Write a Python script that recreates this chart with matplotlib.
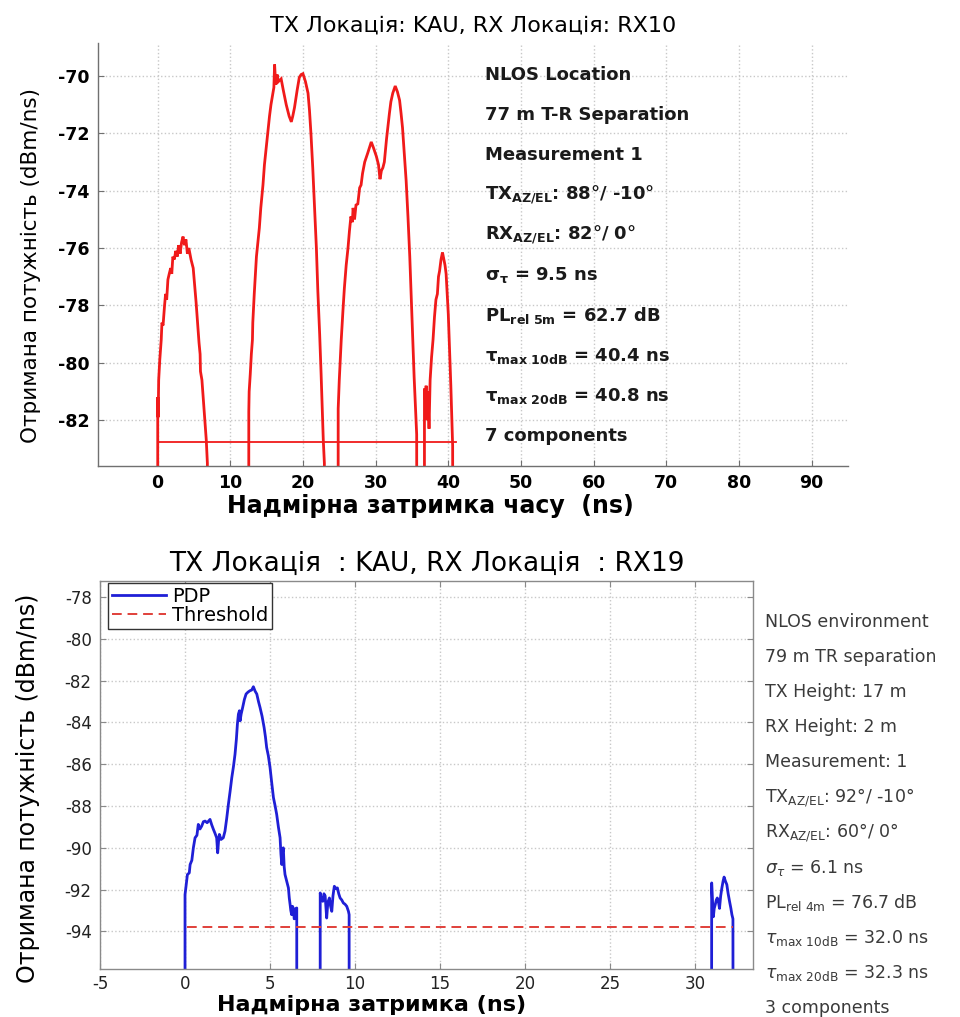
import matplotlib
matplotlib.use("Agg")
import matplotlib.pyplot as plt
import numpy as np

plt.rcParams['font.family'] = ['DejaVu Sans']
plt.rcParams['mathtext.fontset'] = 'dejavusans'
plt.rcParams['axes.unicode_minus'] = False

# ---------------- data: top chart (RX10) ----------------
top_title = "TX Локація: KAU, RX Локація: RX10"
top_xlabel = "Надмірна затримка часу  (ns)"
ylabel_text = "Отримана потужність (dBm/ns)"
top_xticks = [0, 10, 20, 30, 40, 50, 60, 70, 80, 90]
top_yticks = [-82, -80, -78, -76, -74, -72, -70]
FLOOR = -120.0

top_delay = [0.0, 0.02, 0.08, 0.15, 0.3, 0.5, 0.6, 0.75, 0.96, 1.1, 1.25, 1.42, 1.6, 1.8, 1.95, 2.1,
             2.3, 2.5, 2.7, 2.9, 3.1, 3.3, 3.5, 3.7, 3.9, 4.1, 4.3, 4.6, 4.9, 5.1, 5.3, 5.5, 5.7,
             5.85, 5.9, 6.1, 6.3, 6.5, 6.7, 6.85, 6.9,
             12.5, 12.55, 12.6, 12.75, 12.9, 13.05, 13.1, 13.3, 13.6, 14.0, 14.2, 14.5, 14.7, 14.95,
             15.2, 15.4, 15.6, 15.86, 16.0, 16.1, 16.25, 16.45, 16.6, 17.0, 17.3, 17.7, 18.1, 18.4,
             18.6, 18.84, 19.2, 19.5, 19.75, 20.0, 20.35, 20.7, 20.9, 21.1, 21.35, 21.6, 21.85,
             22.05, 22.3, 22.5, 22.65, 22.8, 22.95, 23.0,
             24.8, 24.85, 25.0, 25.27, 25.5, 25.7, 25.95, 26.2, 26.4, 26.6, 26.8, 26.9, 27.1, 27.3,
             27.55, 27.8, 28.0, 28.2, 28.5, 28.9, 29.15, 29.4, 29.7, 30.1, 30.4, 30.6, 30.8, 31.0,
             31.2, 31.5, 31.9, 32.1, 32.36, 32.7, 33.0, 33.3, 33.5, 33.7, 33.95, 34.2, 34.45, 34.7,
             34.9, 35.1, 35.3, 35.5, 35.65, 35.8,
             36.7, 36.72, 36.85, 36.95, 37.1, 37.2, 37.35, 37.5, 37.7, 37.9, 38.1, 38.3, 38.5,
             38.65, 38.8, 39.0, 39.2, 39.4, 39.55, 39.7, 39.85, 40.0, 40.1, 40.2, 40.35, 40.5,
             40.6, 40.7]
top_power = [FLOOR, -81.2, -81.9, -80.6, -79.9, -79.2, -78.6, -78.7, -78.0, -77.6, -77.8, -77.1,
             -76.9, -76.7, -76.9, -76.3, -76.4, -76.1, -76.3, -75.9, -76.2, -75.8, -75.6, -75.9,
             -75.7, -76.2, -76.0, -76.4, -76.7, -77.3, -77.9, -78.6, -79.3, -79.7, -80.3, -80.6,
             -81.3, -82.0, -82.7, -83.5, FLOOR,
             FLOOR, -81.7, -81.0, -80.4, -79.7, -79.2, -78.6, -77.6, -76.3, -75.3, -74.6, -73.8,
             -73.1, -72.5, -71.9, -71.4, -71.0, -70.6, -70.4, -69.6, -70.3, -69.95, -70.2, -70.1,
             -70.5, -71.0, -71.4, -71.6, -71.4, -71.1, -70.5, -70.05, -69.95, -69.92, -70.2,
             -70.6, -71.2, -72.0, -73.2, -74.6, -76.0, -77.5, -79.0, -80.4, -81.6, -82.7, -83.5,
             FLOOR,
             FLOOR, -81.6, -80.6, -79.2, -78.2, -77.4, -76.6, -76.0, -75.4, -74.9, -75.1, -74.6,
             -75.0, -74.5, -74.46, -73.9, -73.8, -73.4, -73.0, -72.7, -72.5, -72.3, -72.5, -72.8,
             -73.1, -73.6, -73.3, -73.2, -73.0, -72.2, -71.3, -70.9, -70.6, -70.35, -70.55,
             -70.85, -71.3, -71.8, -72.7, -73.65, -74.9, -76.3, -77.7, -79.2, -80.5, -81.6, -82.5,
             FLOOR,
             FLOOR, -80.9, -81.3, -80.8, -82.0, -81.0, -82.3, -80.6, -79.8, -79.2, -78.4, -77.8,
             -77.6, -77.0, -76.8, -76.4, -76.15, -76.4, -76.6, -76.9, -77.6, -78.3, -79.0, -79.6,
             -80.8, -82.1, -82.9, FLOOR]
top_threshold_x = [0.0, 41.0]
top_threshold_y = [-82.77, -82.77]

top_notes = ["NLOS Location",
             "77 m T-R Separation",
             "Measurement 1",
             r"TX$_{\mathbf{AZ/EL}}$: 88°/ -10°",
             r"RX$_{\mathbf{AZ/EL}}$: 82°/ 0°",
             r"$\mathbf{\sigma_{\tau}}$ = 9.5 ns",
             r"PL$_{\mathbf{rel\ 5m}}$ = 62.7 dB",
             r"$\mathbf{\tau_{max\ 10dB}}$ = 40.4 ns",
             r"$\mathbf{\tau_{max\ 20dB}}$ = 40.8 ns",
             "7 components"]

# ---------------- data: bottom chart (RX19) ----------------
bot_title = "TX Локація  : KAU, RX Локація  : RX19"
bot_xlabel = "Надмірна затримка (ns)"
bot_xticks = [-5, 0, 5, 10, 15, 20, 25, 30]
bot_yticks = [-94, -92, -90, -88, -86, -84, -82, -80, -78]

bot_delay = [0.0, 0.0, 0.05, 0.14, 0.25, 0.3, 0.4, 0.49, 0.59, 0.7, 0.78, 0.88, 0.98, 1.08, 1.18,
             1.3, 1.47, 1.57, 1.67, 1.76, 1.86, 1.92, 1.97, 2.02, 2.12, 2.25, 2.35, 2.45, 2.55,
             2.65, 2.75, 2.85, 2.94, 3.02, 3.08, 3.14, 3.2, 3.24, 3.3, 3.39, 3.49, 3.59, 3.7, 3.82,
             3.92, 4.02, 4.12, 4.22, 4.32, 4.41, 4.53, 4.65, 4.73, 4.8, 4.9, 5.0, 5.1, 5.2, 5.3,
             5.39, 5.49, 5.59, 5.64, 5.69, 5.74, 5.78, 5.83, 5.88, 5.98, 6.08, 6.13, 6.18, 6.22,
             6.27, 6.32, 6.37, 6.42, 6.47, 6.52, 6.57, 6.58,
             7.94, 7.95, 8.02, 8.1, 8.17, 8.24, 8.33, 8.4, 8.49, 8.56, 8.63, 8.7, 8.78, 8.87, 8.96,
             9.04, 9.12, 9.22, 9.31, 9.41, 9.51, 9.61, 9.65, 9.66,
             30.95, 30.97, 31.02, 31.07, 31.12, 31.18, 31.24, 31.3, 31.37, 31.43, 31.5, 31.57,
             31.64, 31.7, 31.78, 31.86, 31.94, 32.02, 32.1, 32.16, 32.22, 32.25]
bot_power = [FLOOR, -92.24, -91.9, -91.28, -91.2, -90.8, -90.6, -90.0, -89.52, -89.4, -88.88,
             -89.1, -88.96, -88.75, -88.72, -88.8, -88.64, -88.9, -89.12, -89.3, -89.52, -90.24,
             -89.7, -89.36, -89.6, -89.52, -89.2, -88.6, -87.92, -87.3, -86.64, -86.1, -85.52,
             -84.8, -84.08, -83.6, -83.44, -83.92, -83.6, -83.28, -82.9, -82.64, -82.55, -82.48,
             -82.45, -82.29, -82.5, -82.64, -83.0, -83.28, -83.7, -84.24, -84.7, -85.2, -85.6,
             -86.16, -86.9, -87.6, -88.0, -88.4, -89.0, -89.52, -90.3, -90.8, -90.2, -90.0, -90.9,
             -91.28, -91.6, -91.92, -92.4, -92.72, -93.0, -93.2, -92.8, -92.9, -93.4, -93.36,
             -92.9, -92.88, FLOOR,
             FLOOR, -92.16, -92.5, -92.56, -92.2, -92.3, -93.36, -92.6, -92.4, -92.8, -93.04,
             -92.3, -91.84, -91.95, -91.92, -92.2, -92.4, -92.5, -92.64, -92.7, -92.8, -93.04,
             -93.2, FLOOR,
             FLOOR, -91.68, -92.6, -93.3, -92.9, -92.72, -92.5, -92.4, -92.6, -92.9, -92.3, -91.92,
             -91.6, -91.4, -91.6, -91.76, -92.2, -92.56, -92.9, -93.2, -93.4, FLOOR]
bot_threshold_x = [0.1, 32.25]
bot_threshold_y = [-93.8, -93.8]

bot_notes = ["NLOS environment",
             "79 m TR separation",
             "TX Height: 17 m",
             "RX Height: 2 m",
             "Measurement: 1",
             r"TX$_{\mathregular{AZ/EL}}$: 92°/ -10°",
             r"RX$_{\mathregular{AZ/EL}}$: 60°/ 0°",
             r"$\sigma_{\tau}$ = 6.1 ns",
             r"PL$_{\mathregular{rel\ 4m}}$ = 76.7 dB",
             r"$\tau_{\mathregular{max\ 10dB}}$ = 32.0 ns",
             r"$\tau_{\mathregular{max\ 20dB}}$ = 32.3 ns",
             "3 components"]

# ---------------- figure ----------------
W, H = 960, 1017
fig = plt.figure(figsize=(W / 100, H / 100), dpi=100)
fig.patch.set_facecolor('white')

def frac(l, t, r, b):
    return [l / W, 1 - b / H, (r - l) / W, (b - t) / H]

grid_kw = dict(color='#c8c8c8', linestyle=':', linewidth=1.0)

# ---- top axes ----
ax1 = fig.add_axes(frac(98, 43, 848, 466))
ax1.plot(top_delay, top_power, color='#f01a1a', linewidth=2.0, solid_joinstyle='miter')
ax1.plot(top_threshold_x, top_threshold_y, color='#f01a1a', linewidth=1.3)
ax1.set_xlim(-8.2, 95)
ax1.set_ylim(-83.6, -68.85)
ax1.set_xticks(top_xticks)
ax1.set_yticks(top_yticks)
ax1.grid(True, **grid_kw)
ax1.set_axisbelow(True)
for s in ['top', 'right']:
    ax1.spines[s].set_visible(False)
for s in ['left', 'bottom']:
    ax1.spines[s].set_color('#707070')
    ax1.spines[s].set_linewidth(1.0)
ax1.tick_params(direction='in', length=4, width=0.8, color='#707070', labelsize=12.5, pad=6)
for lab in ax1.get_xticklabels() + ax1.get_yticklabels():
    lab.set_fontweight('bold')
ax1.set_title(top_title, fontsize=16, pad=8)
ax1.set_ylabel(ylabel_text, fontsize=15.5)
ax1.yaxis.set_label_coords(-0.076, 0.475)
ax1.set_xlabel(top_xlabel, fontsize=17, fontweight='bold')
ax1.xaxis.set_label_coords(0.443, -0.066)

for i, note in enumerate(top_notes):
    ax1.text(45, -69.95 - 1.4 * i, note, fontsize=13, fontweight='bold',
             va='center', ha='left', color='#1a1a1a')

# ---- bottom axes ----
ax2 = fig.add_axes(frac(100, 581, 753, 969))
ax2.plot(bot_delay, bot_power, color='#1f1fd6', linewidth=2.0, label='PDP')
ax2.plot(bot_threshold_x, bot_threshold_y, color='#e0403a', linewidth=1.4,
         linestyle=(0, (5, 3)), label='Threshold')
ax2.set_xlim(-5, 33.4)
ax2.set_ylim(-95.8, -77.23)
ax2.set_xticks(bot_xticks)
ax2.set_yticks(bot_yticks)
ax2.grid(True, **grid_kw)
ax2.set_axisbelow(True)
for s in ax2.spines.values():
    s.set_color('#8a8a8a')
    s.set_linewidth(1.0)
ax2.tick_params(direction='in', length=4, width=0.8, color='#8a8a8a', labelsize=12,
                labelcolor='#222222', top=True, right=True, pad=4)
ax2.tick_params(axis='y', pad=6)
ax2.set_title(bot_title, fontsize=19, pad=7)
ax2.set_ylabel(ylabel_text, fontsize=17)
ax2.yaxis.set_label_coords(-0.092, 0.466)
ax2.set_xlabel(bot_xlabel, fontsize=16, fontweight='bold')
ax2.xaxis.set_label_coords(0.4165, -0.066)

leg = ax2.legend(loc='upper left', bbox_to_anchor=(8 / 653, 1 - 2 / 388), borderaxespad=0,
                 fontsize=14, handlelength=2.8, labelspacing=0.0, borderpad=0.2,
                 handletextpad=0.3, fancybox=False, framealpha=1)
leg.get_frame().set_edgecolor('#333333')
leg.get_frame().set_linewidth(1.0)

for i, note in enumerate(bot_notes):
    ypx = 622 + 35.1 * i
    ax2.text((765 - 100) / 653, (969 - ypx) / 388, note, transform=ax2.transAxes,
             fontsize=12.5, va='center', ha='left', color='#3a3a3a', clip_on=False)

fig.savefig('out.png', dpi=100, facecolor='white')
